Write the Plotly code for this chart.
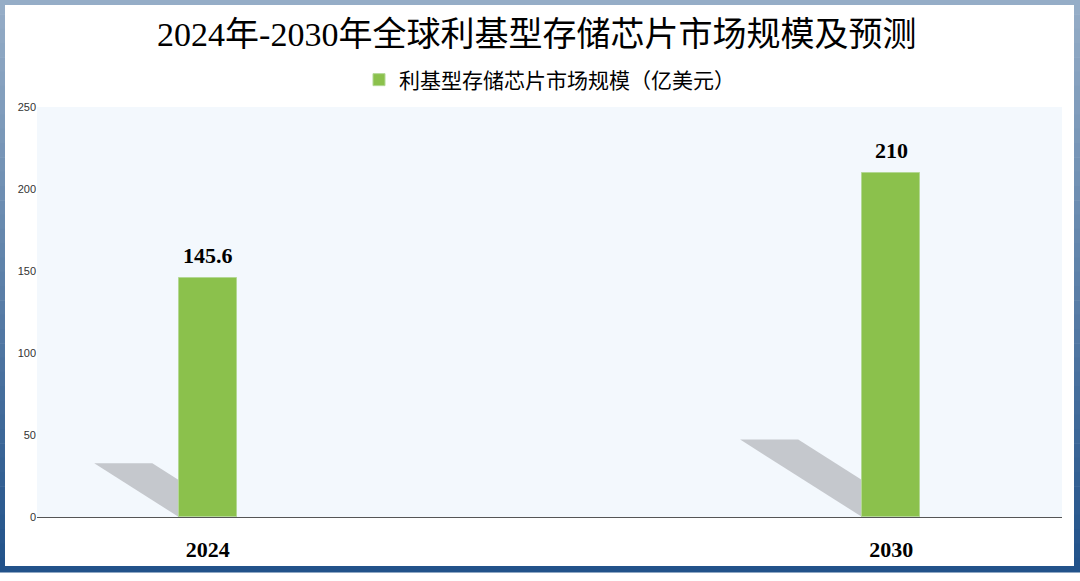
import plotly.graph_objects as go

# data
years = ["2024", "2030"]
market_size = [145.6, 210]
series_name = "利基型存储芯片市场规模（亿美元）"
title_text = "2024年-2030年全球利基型存储芯片市场规模及预测"

W, H = 1080, 581
L, R, T, B = 37, 18, 107, 64
plot_w = W - L - R
plot_h = H - T - B
bar_w = 0.085

serif = "Liberation Serif, DejaVu Serif, Noto Sans CJK SC, serif"
cjk_serif = "Liberation Serif, Noto Sans CJK SC, serif"


def px_x(p):
    return (p - L) / plot_w


def px_y(p):
    return (H - B - p) / plot_h


x_pos = list(range(len(years)))

fig = go.Figure()
fig.add_trace(go.Bar(
    x=x_pos, y=market_size, name=series_name, width=bar_w,
    marker=dict(color="#8bc14c", line=dict(color="#b3d894", width=1)),
    cliponaxis=False, showlegend=True,
))

# value labels above the bars
for xi, v in zip(x_pos, market_size):
    fig.add_annotation(x=xi, y=v, xref="x", yref="y", text=f"<b>{v:g}</b>",
                       showarrow=False, yanchor="bottom", yshift=8,
                       font=dict(family=serif, size=22, color="#000000"))

shapes = []

# frame with a vertical gradient
n = 40
top_c = (0x95, 0xad, 0xc7)
bot_c = (0x22, 0x52, 0x8a)
frame_top, frame_bot = 0, 572
for i in range(n):
    t = i / (n - 1)
    c = tuple(int(top_c[k] + (bot_c[k] - top_c[k]) * t) for k in range(3))
    y0 = frame_top + (frame_bot - frame_top) * i / n
    y1 = frame_top + (frame_bot - frame_top) * (i + 1) / n
    shapes.append(dict(type="rect", xref="paper", yref="paper", layer="below",
                       x0=px_x(0), x1=px_x(W), y0=px_y(y1 + 0.5), y1=px_y(y0),
                       fillcolor="rgb(%d,%d,%d)" % c, line=dict(width=0)))
shapes.append(dict(type="rect", xref="paper", yref="paper", layer="below",
                   x0=px_x(5), x1=px_x(1074), y0=px_y(566), y1=px_y(5),
                   fillcolor="white", line=dict(width=0)))
shapes.append(dict(type="rect", xref="paper", yref="paper", layer="below",
                   x0=0, x1=1, y0=0, y1=1,
                   fillcolor="#f3f8fd", line=dict(width=0)))

# drop shadows behind bars
for xi, v in zip(x_pos, market_size):
    s = 0.225 * v
    d = 0.00085 * v
    xl, xr = xi - bar_w / 2, xi + bar_w / 2
    path = f"M {xl},0 L {xr},0 L {xr - d},{s} L {xl - d},{s} Z"
    shapes.append(dict(type="path", xref="x", yref="y", layer="below", path=path,
                       fillcolor="#c5c8cd", line=dict(width=0)))

fig.update_layout(
    width=W, height=H,
    margin=dict(l=L, r=R, t=T, b=B),
    paper_bgcolor="white",
    plot_bgcolor="rgba(0,0,0,0)",
    shapes=shapes,
    title=dict(text=title_text, x=0.497, xanchor="center", y=1 - 34 / H, yanchor="middle",
               font=dict(family=cjk_serif, size=34, color="#000000")),
    legend=dict(orientation="h", x=0.5, xanchor="center", y=px_y(80), yanchor="middle",
                font=dict(family=cjk_serif, size=21, color="#000000"),
                bgcolor="rgba(0,0,0,0)"),
    xaxis=dict(range=[-0.25, 1.25], tickvals=x_pos, ticktext=[f"<b>{y}</b>" for y in years],
               tickfont=dict(family=serif, size=22, color="#000000"),
               ticks="outside", ticklen=13, tickcolor="rgba(0,0,0,0)",
               showline=True, linecolor="#555555", linewidth=1,
               showgrid=False, zeroline=False),
    yaxis=dict(range=[0, 250], dtick=50, showgrid=False, zeroline=False,
               tickfont=dict(family="Liberation Sans, Noto Sans CJK SC, sans-serif",
                             size=11, color="#333333")),
    bargap=0,
)

fig.write_html("out.html", config={"displayModeBar": False},
               post_script="document.body.style.margin='0';")
